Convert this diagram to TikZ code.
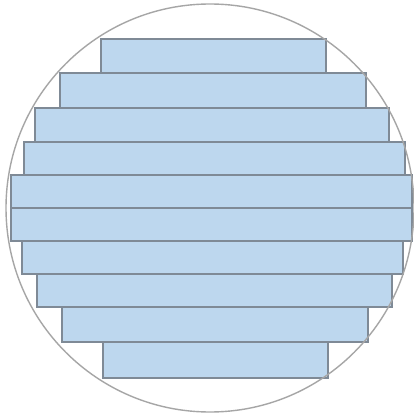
\documentclass[tikz,border=0pt]{standalone}
\begin{document}
\begin{tikzpicture}[x=1pt,y=-1pt,
  slab/.style={fill=slabfill,draw=slabline,line width=1.3pt},
  rim/.style={draw=rimline,line width=1.4pt}]
\definecolor{slabfill}{HTML}{BDD7EE}
\definecolor{slabline}{HTML}{7F8A96}
\definecolor{rimline}{HTML}{A6A6A6}
\useasboundingbox (0,0) rectangle (413,419);
\fill[white] (0,0) rectangle (413,419);
\foreach \t/\b/\l/\r in {39/73/101/326, 73/108/60/366, 108/142/35/389, 142/175/24/405, 175/208/11/412, 208/241/11/412, 241/274/22/403, 274/307/37/392, 307/342/62/368, 342/378/103/328}
  \draw[slab] (\l,\t) rectangle (\r,\b);
\draw[rim] (210,208) circle[radius=204];
\end{tikzpicture}
\end{document}
